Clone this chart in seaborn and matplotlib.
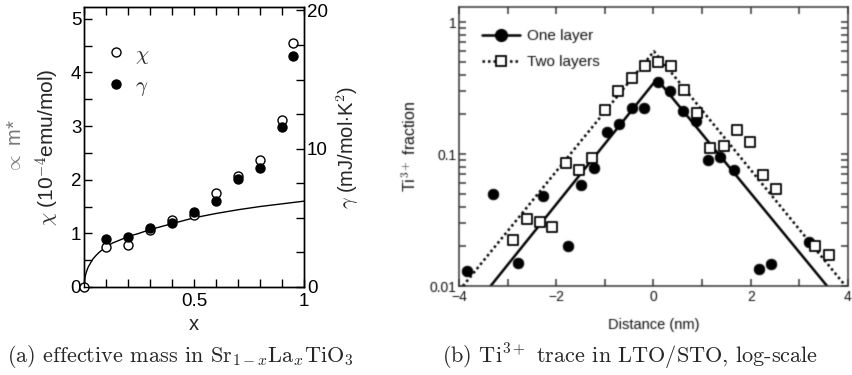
import numpy as np
import pandas as pd
import matplotlib
matplotlib.use("Agg")
import matplotlib.pyplot as plt
from matplotlib.lines import Line2D
from matplotlib.ticker import MultipleLocator, FixedLocator, NullFormatter, LogLocator
import seaborn as sns

# ---------------- data: Sr(1-x)La(x)TiO3 ----------------
x_chi = [0.0, 0.10, 0.20, 0.30, 0.40, 0.50, 0.60, 0.70, 0.80, 0.90, 0.95]
chi = [0.0, 0.75, 0.78, 1.06, 1.24, 1.34, 1.76, 2.07, 2.37, 3.11, 4.54]     # 1e-4 emu/mol
x_gam = [0.10, 0.20, 0.30, 0.40, 0.50, 0.60, 0.70, 0.80, 0.90, 0.95]
gamma = [3.5, 3.6, 4.3, 4.6, 5.4, 6.2, 7.8, 8.6, 11.6, 16.7]                # mJ/mol K^2
# free-electron effective-mass curve
x_curve = [0.0, 0.003, 0.006, 0.01, 0.015, 0.02, 0.03, 0.04, 0.055, 0.07, 0.085,
           0.10, 0.13, 0.16, 0.20, 0.25, 0.30, 0.40, 0.50, 0.60, 0.70, 0.80, 0.90, 1.0]
m_curve = [0.0, 0.14, 0.21, 0.27, 0.33, 0.38, 0.45, 0.52, 0.59, 0.65, 0.70,
           0.75, 0.82, 0.87, 0.94, 1.00, 1.07, 1.18, 1.29, 1.37, 1.44, 1.50, 1.55, 1.60]

# ---------------- data: Ti3+ profile in LTO/STO ----------------
d_one = [-3.83, -3.31, -2.78, -2.28, -1.75, -1.49, -1.22, -0.96, -0.70, -0.44, -0.19,
         0.09, 0.34, 0.60, 0.88, 1.12, 1.37, 1.65, 2.16, 2.42, 3.19]
f_one = [0.0129, 0.050, 0.015, 0.048, 0.020, 0.058, 0.078, 0.148, 0.170, 0.225, 0.225,
         0.35, 0.30, 0.213, 0.178, 0.090, 0.095, 0.076, 0.0134, 0.0146, 0.0216]
d_two = [-2.89, -2.60, -2.34, -2.08, -1.80, -1.53, -1.26, -0.99, -0.72, -0.45, -0.17,
         0.10, 0.36, 0.63, 0.90, 1.17, 1.45, 1.71, 1.98, 2.25, 2.52, 3.33, 3.60]
f_two = [0.0222, 0.032, 0.0307, 0.0279, 0.0857, 0.0758, 0.0936, 0.216, 0.30, 0.38, 0.466,
         0.50, 0.466, 0.308, 0.203, 0.111, 0.115, 0.153, 0.123, 0.0693, 0.0543, 0.020, 0.0172]
fit_one_d = [-3.35, 0.07, 3.57]
fit_one_f = [0.01, 0.37, 0.01]
fit_two_d = [-3.92, 0.01, 3.95]
fit_two_f = [0.01, 0.60, 0.01]

sns.set_theme(style="ticks")
plt.rcParams["font.family"] = ["Liberation Sans", "DejaVu Sans"]
plt.rcParams["mathtext.fontset"] = "cm"

fig = plt.figure(figsize=(8.53, 3.75), dpi=100)

# ================= panel (a) =================
axa = fig.add_axes([0.0985, 0.2347, 0.2579, 0.7467])
axg = axa.twinx()

sns.lineplot(x=x_curve, y=m_curve, ax=axa, color="black", lw=1.0, sort=False,
             estimator=None)
sns.scatterplot(x=x_chi, y=chi, ax=axa, marker="o", s=42, facecolor="white",
                edgecolor="black", linewidth=1.0, zorder=5, clip_on=False)
sns.scatterplot(x=x_gam, y=gamma, ax=axg, marker="o", s=42, color="black",
                edgecolor="black", linewidth=1.0, zorder=4)

axa.set_xlim(0, 1)
axa.set_ylim(0, 5.22)
axg.set_ylim(0, 5.22 * 3.88)

axa.xaxis.set_major_locator(FixedLocator([0, 0.5, 1]))
axa.xaxis.set_minor_locator(MultipleLocator(0.1))
axa.yaxis.set_major_locator(MultipleLocator(1))
axa.yaxis.set_minor_locator(MultipleLocator(0.5))
# the corner "0" is shared by both axes
axa.set_xticklabels(["", "0.5", "1"])
axg.yaxis.set_major_locator(FixedLocator([0, 10, 20]))
axg.yaxis.set_minor_locator(MultipleLocator(2.5))

for ax in (axa, axg):
    for s in ax.spines.values():
        s.set_color("black")
        s.set_linewidth(1.0)
axa.tick_params(which="both", direction="in", top=True, right=False, labelsize=13.5,
                pad=2, color="black", labelcolor="black", length=6, width=1)
axa.tick_params(axis="x", which="both", pad=4)
axg.tick_params(which="both", direction="in", labelsize=13.5, pad=2, length=6, width=1,
                color="black", labelcolor="black")

axa.set_xlabel("x", fontsize=14.5, labelpad=4)
axa.set_ylabel(r"$\chi$ (10$^{-4}$emu/mol)", fontsize=15, labelpad=6)
axg.set_ylabel(r"$\gamma$ (mJ/mol$\cdot$K$^2$)", fontsize=14.5, labelpad=5)
fig.text(0.018, 0.61, r"$\propto$ m*", rotation=90, ha="center", va="center",
         fontsize=14.5, color="#777777")

leg_a = [Line2D([], [], ls="none", marker="o", ms=6.5, mfc="white", mec="black",
                mew=1.0, label=r"$\chi$"),
         Line2D([], [], ls="none", marker="o", ms=6.5, mfc="black", mec="black",
                mew=1.0, label=r"$\gamma$")]
axa.legend(handles=leg_a, loc="upper left", bbox_to_anchor=(0.05, 0.918), frameon=False,
           fontsize=15, handlelength=0.6, handletextpad=0.6, labelspacing=0.5,
           borderpad=0.2)

# ================= panel (b) =================
axb = fig.add_axes([0.5381, 0.2373, 0.4560, 0.7440])
dark = "#000000"
sns.lineplot(x=fit_one_d, y=fit_one_f, ax=axb, color=dark, lw=1.8, sort=False,
             estimator=None)
sns.lineplot(x=fit_two_d, y=fit_two_f, ax=axb, color=dark, lw=1.8, sort=False,
             estimator=None, linestyle=(0, (1, 1.2)))
sns.scatterplot(x=d_one, y=f_one, ax=axb, marker="o", s=60, color=dark,
                edgecolor=dark, linewidth=0.5, zorder=5)
sns.scatterplot(x=d_two, y=f_two, ax=axb, marker="s", s=50, facecolor="white",
                edgecolor=dark, linewidth=1.3, zorder=6)

axb.set_yscale("log")
axb.set_xlim(-4, 4)
axb.set_ylim(0.01, 1.3)
axb.xaxis.set_minor_locator(MultipleLocator(1))
axb.set_xticks([-4, -2, 0, 2, 4])
axb.set_xticklabels(["\u22124", "\u22122", "0", "2", "4"])
axb.yaxis.set_major_locator(FixedLocator([0.01, 0.1, 1]))
axb.set_yticklabels(["0.01", "0.1", "1"])
axb.yaxis.set_minor_locator(LogLocator(base=10, subs=np.arange(2, 10)))
axb.yaxis.set_minor_formatter(NullFormatter())
for s in axb.spines.values():
    s.set_color("#333333")
    s.set_linewidth(1.1)
axb.tick_params(which="both", direction="in", top=True, right=True, labelsize=10,
                pad=2, color="#333333", labelcolor="#111111", width=1.1, length=5)
axb.tick_params(axis="x", which="both", pad=3)
axb.set_xlabel("Distance (nm)", fontsize=10.5, labelpad=10, color="#111111")
axb.set_ylabel(r"Ti$^{\rm 3+}$ fraction", fontsize=11.5, labelpad=8, color="#111111")

leg_b = [Line2D([], [], color=dark, lw=1.8, marker="o", ms=8.5, mfc=dark, mec=dark,
                label="One layer"),
         Line2D([], [], color=dark, lw=1.8, ls=(0, (1, 1.2)), marker="s", ms=7.5,
                mfc="white", mec=dark, mew=1.3, label="Two layers")]
axb.legend(handles=leg_b, loc="upper left", bbox_to_anchor=(0.02, 0.975), frameon=False,
           fontsize=11, handlelength=2.5, handletextpad=0.45, labelspacing=0.8,
           borderpad=0.5, labelcolor="#111111")

# ================= captions =================
cap_kw = dict(ha="center", va="center", fontsize=16, family="cmr10")
fig.text(0.211, 0.048, r"(a) effective mass in Sr$_{1-x}$La$_x$TiO$_3$", **cap_kw)
fig.text(0.7386, 0.048, r"(b) Ti$^{3+}$ trace in LTO/STO, log-scale", **cap_kw)

# panel (b) comes from a scanned print: soften it slightly
fig.canvas.draw()
img = np.asarray(fig.canvas.buffer_rgba()).astype(float)
r = np.arange(-2, 3)
k = np.exp(-0.5 * (r / 0.6) ** 2)
k /= k.sum()
y0, y1, x0, x1 = 0, 340, 395, img.shape[1]
reg = img[y0:y1, x0:x1, :3]
pad = np.pad(reg, ((2, 2), (2, 2), (0, 0)), mode="edge")
tmp = sum(k[i] * pad[:, i:i + reg.shape[1], :] for i in range(5))
soft = sum(k[i] * tmp[i:i + reg.shape[0], :, :] for i in range(5))
img[y0:y1, x0:x1, :3] = soft
plt.imsave("out.png", np.clip(img, 0, 255).astype(np.uint8))
